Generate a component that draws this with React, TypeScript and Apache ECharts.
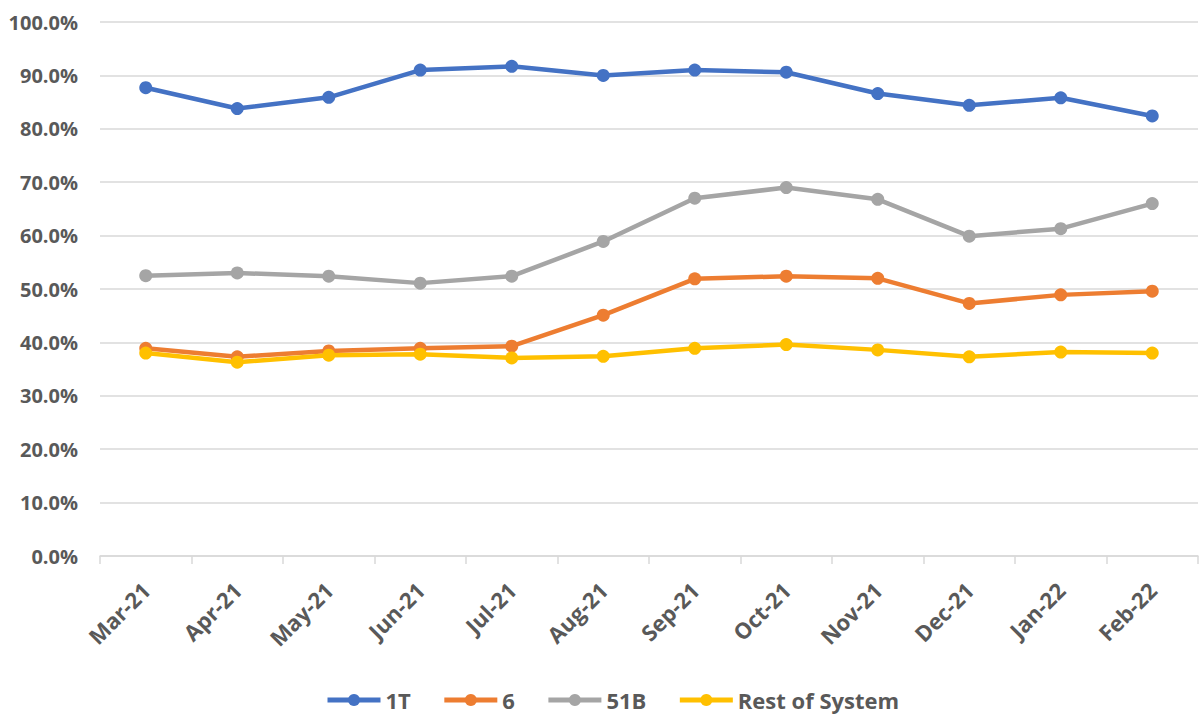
import React, { useEffect, useRef } from "react";
import * as echarts from "echarts";

const categories = ["Mar-21", "Apr-21", "May-21", "Jun-21", "Jul-21", "Aug-21", "Sep-21", "Oct-21", "Nov-21", "Dec-21", "Jan-22", "Feb-22"];
const s1T = [87.7, 83.8, 85.9, 91.0, 91.7, 90.0, 91.0, 90.6, 86.6, 84.4, 85.8, 82.4];
const s6 = [38.9, 37.3, 38.4, 38.9, 39.3, 45.1, 51.9, 52.4, 52.0, 47.3, 48.9, 49.6];
const s51B = [52.5, 53.0, 52.4, 51.1, 52.4, 58.9, 67.0, 69.0, 66.8, 59.9, 61.3, 66.0];
const sRest = [38.0, 36.3, 37.6, 37.8, 37.1, 37.4, 38.9, 39.6, 38.6, 37.3, 38.2, 38.0];
const yTicks = { min: 0, max: 100, interval: 10 };

const FONT = "'Open Sans', 'Noto Sans', sans-serif";
const TXT = "#595959";

export default function App() {
  const ref = useRef<HTMLDivElement>(null);
  useEffect(() => {
    const chart = echarts.init(ref.current!, undefined, { renderer: "svg" });
    const mk = (name: string, data: number[], color: string) => ({
      name,
      type: "line",
      data,
      symbol: "circle",
      symbolSize: 13,
      lineStyle: { width: 4.5, color },
      itemStyle: { color },
    });
    chart.setOption({
      animation: false,
      textStyle: { fontFamily: FONT },
      grid: { left: 100, right: 1, top: 22, bottom: 162, containLabel: false },
      legend: {
        bottom: 2,
        left: 320,
        itemWidth: 53,
        itemHeight: 15,
        itemGap: 31,
        lineStyle: { width: 5 },
        textStyle: { fontSize: 22, fontWeight: "bold", color: TXT, fontFamily: FONT },
        data: ["1T", "6", "51B", "Rest of System"],
      },
      xAxis: {
        type: "category",
        data: categories,
        boundaryGap: true,
        axisLine: { lineStyle: { color: "#D9D9D9", width: 1.5 } },
        axisTick: { show: true, length: 8, lineStyle: { color: "#D9D9D9", width: 1.5 } },
        axisLabel: {
          rotate: 45,
          fontSize: 22,
          fontWeight: "bold",
          color: TXT,
          fontFamily: FONT,
          margin: 30,
          interval: 0,
        },
      },
      yAxis: {
        type: "value",
        min: yTicks.min,
        max: yTicks.max,
        interval: yTicks.interval,
        axisLine: { show: false },
        axisTick: { show: false },
        splitLine: { lineStyle: { color: "#D9D9D9", width: 1.5 } },
        axisLabel: {
          formatter: (v: number) => v.toFixed(1) + "%",
          fontSize: 20,
          fontWeight: "bold",
          color: TXT,
          fontFamily: FONT,
          margin: 22,
        },
      },
      series: [
        mk("1T", s1T, "#4472C4"),
        mk("6", s6, "#ED7D31"),
        mk("51B", s51B, "#A5A5A5"),
        mk("Rest of System", sRest, "#FFC000"),
      ],
    });
    return () => chart.dispose();
  }, []);
  return (
    <div
      ref={ref}
      style={{ position: "fixed", left: 0, top: 0, width: 1199, height: 718, background: "#fff" }}
    />
  );
}
